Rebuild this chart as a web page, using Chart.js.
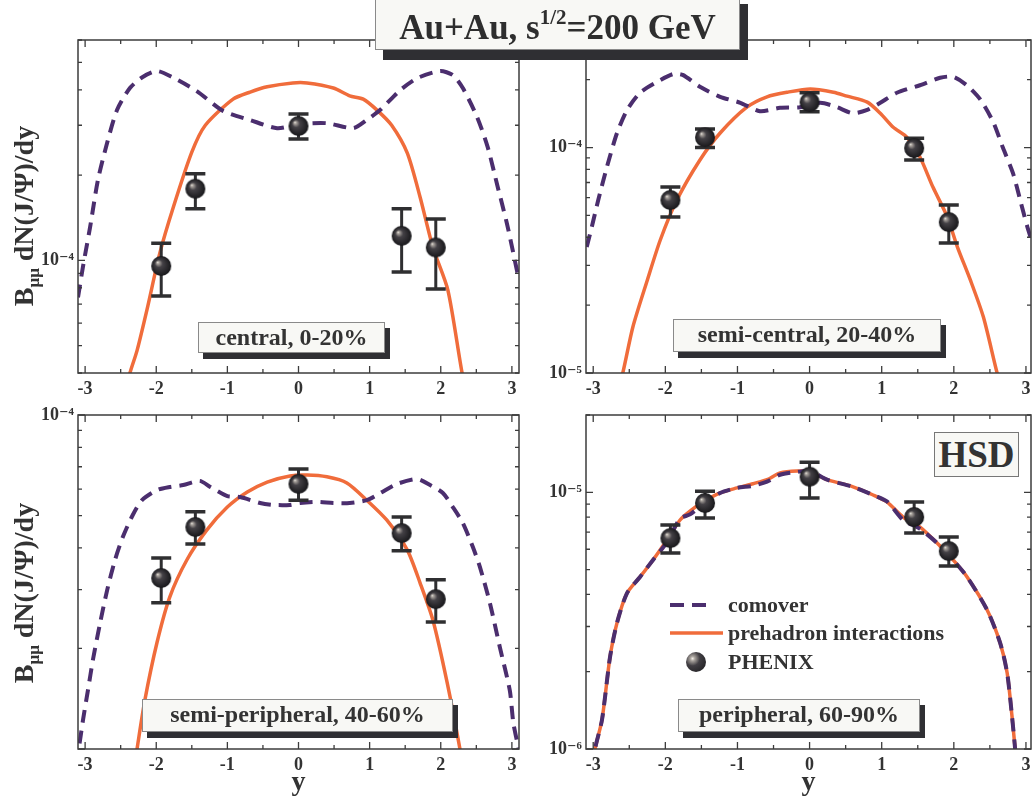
<!DOCTYPE html>
<html>
<head>
<meta charset="utf-8">
<title>J/psi rapidity distributions, HSD</title>
<script src="https://cdn.jsdelivr.net/npm/chart.js@4.4.1/dist/chart.umd.min.js"></script>
<style>
  html, body { margin: 0; padding: 0; }
  body {
    position: relative; width: 1033px; height: 801px; overflow: hidden; background: #fff;
    font-family: 'Liberation Serif', 'DejaVu Serif', serif; font-weight: bold; color: #333;
  }
  canvas { position: absolute; }
  .tag {
    position: absolute; box-sizing: border-box; background: #f8f8f5; border: 1px solid #8a8a8a;
    box-shadow: 5px 6px 0 #2f2f33; font-size: 24px; line-height: 29px; text-align: center; white-space: nowrap;
  }
  .title {
    position: absolute; left: 375px; top: -6px; width: 365px; height: 56px; box-sizing: border-box;
    padding-top: 10px; line-height: 46px; font-size: 35px; text-align: center; white-space: nowrap;
    background: #f8f8f5; border: 1px solid #8a8a8a; box-shadow: 8px 10px 0 #2f2f33; color: #2e2e2e;
  }
  .title .sup { font-size: 21px; position: relative; top: -15px; }
  .ytitle {
    position: absolute; width: 220px; height: 30px; line-height: 30px; font-size: 28px; text-align: center;
    white-space: nowrap; transform: rotate(-90deg); transform-origin: 50% 50%;
  }
  .ytitle sub { font-size: 17px; vertical-align: -6px; line-height: 0; }
  .hsd {
    position: absolute; left: 934px; top: 432px; width: 85px; height: 45px; box-sizing: border-box;
    border: 1px solid #777; background: #f8f8f5; font-size: 37px; line-height: 43px; text-align: center;
  }
  .leg { position: absolute; font-size: 22px; line-height: 26px; white-space: nowrap; }
  .leg-sample { position: absolute; }
  .ball {
    position: absolute; width: 20px; height: 20px; border-radius: 50%;
    background: radial-gradient(circle at 33% 33%, #f4f0ea 0, #a8a29c 12%, #413e43 38%, #18181a 100%);
  }
</style>
</head>
<body>
<canvas id="central" width="509" height="379" style="left:18px; top:26px"></canvas>
<canvas id="semiCentral" width="513" height="379" style="left:526px; top:26px"></canvas>
<canvas id="semiPeripheral" width="509" height="400" style="left:18px; top:401px"></canvas>
<canvas id="peripheral" width="513" height="400" style="left:526px; top:401px"></canvas>

<div class="title">Au+Au, s<span class="sup">1/2</span>=200 GeV</div>

<div class="ytitle" style="left:-86px; top:201px">B<sub>μμ</sub> dN(J/Ψ)/dy</div>
<div class="ytitle" style="left:-86px; top:578px">B<sub>μμ</sub> dN(J/Ψ)/dy</div>

<div class="tag" style="left:198px; top:322px; width:187px; height:31px">central, 0-20%</div>
<div class="tag" style="left:673px; top:319px; width:268px; height:33px">semi-central, 20-40%</div>
<div class="tag" style="left:142px; top:699px; width:311px; height:33px">semi-peripheral, 40-60%</div>
<div class="tag" style="left:678px; top:699px; width:242px; height:33px">peripheral, 60-90%</div>
<div class="hsd">HSD</div>

<svg class="leg-sample" style="left:670px; top:598px" width="50" height="14">
  <line x1="0" y1="7" x2="43" y2="7" stroke="#4b2e6e" stroke-width="4" stroke-dasharray="14 8"/>
</svg>
<div class="leg" style="left:728px; top:592px">comover</div>
<svg class="leg-sample" style="left:670px; top:626px" width="56" height="14">
  <line x1="0" y1="7" x2="53" y2="7" stroke="#f06c3b" stroke-width="3.5"/>
</svg>
<div class="leg" style="left:728px; top:620px">prehadron interactions</div>
<div class="ball" style="left:686px; top:652px"></div>
<div class="leg" style="left:728px; top:649px">PHENIX</div>

<script>
// rapidity axis
const rapidityTicks = [-3, -2, -1, 0, 1, 2, 3];
const rapidityMinor = [-2.5, -1.5, -0.5, 0.5, 1.5, 2.5];

// PHENIX rapidity bins (shared by all panels)
const phenixY = [-1.93, -1.45, 0, 1.45, 1.93];

// ---- central, 0-20% ----
const comoverX1 = [-3.1, -3.03, -2.93, -2.82, -2.69, -2.55, -2.37, -2.19, -1.99, -1.78, -1.43, -1.06, -0.68, -0.30, 0.02, 0.40, 0.77, 0.96, 1.15, 1.43, 1.67, 1.99, 2.17, 2.31, 2.51, 2.66, 2.80, 2.93, 3.02, 3.10];
const comover1 = [7.4e-5, 9.5e-5, 1.31e-4, 1.92e-4, 2.60e-4, 3.40e-4, 4.06e-4, 4.44e-4, 4.66e-4, 4.44e-4, 3.96e-4, 3.37e-4, 3.13e-4, 2.93e-4, 3.03e-4, 3.05e-4, 2.93e-4, 3.13e-4, 3.40e-4, 3.99e-4, 4.40e-4, 4.66e-4, 4.51e-4, 4.06e-4, 3.21e-4, 2.51e-4, 1.82e-4, 1.35e-4, 1.06e-4, 8.5e-5];
const prehadronX1 = [-2.45, -2.37, -2.27, -2.13, -1.95, -1.76, -1.50, -1.31, -0.92, -0.68, -0.44, -0.08, 0.12, 0.49, 0.72, 0.91, 1.10, 1.31, 1.53, 1.71, 1.89, 2.10, 2.30, 2.38];
const prehadron1 = [3.3e-5, 4.0e-5, 4.8e-5, 6.7e-5, 1.06e-4, 1.54e-4, 2.41e-4, 3.0e-4, 3.71e-4, 3.93e-4, 4.1e-4, 4.23e-4, 4.23e-4, 4.06e-4, 3.81e-4, 3.71e-4, 3.40e-4, 3.0e-4, 2.39e-4, 1.67e-4, 1.11e-4, 7.85e-5, 4.0e-5, 3.3e-5];
const phenix1 = [9.55e-5, 1.79e-4, 2.98e-4, 1.22e-4, 1.11e-4];
const phenixLo1 = [7.48e-5, 1.52e-4, 2.68e-4, 9.09e-5, 7.92e-5];
const phenixHi1 = [1.15e-4, 2.02e-4, 3.29e-4, 1.52e-4, 1.40e-4];

// ---- semi-central, 20-40% ----
const comoverX2 = [-3.09, -3.02, -2.93, -2.81, -2.67, -2.53, -2.35, -2.12, -1.89, -1.76, -1.52, -1.24, -0.96, -0.69, -0.41, -0.13, 0.15, 0.38, 0.60, 0.80, 0.98, 1.21, 1.53, 1.81, 1.99, 2.18, 2.37, 2.55, 2.68, 2.82, 2.92, 3.02, 3.09];
const comover2 = [3.62e-5, 4.44e-5, 5.85e-5, 8.2e-5, 1.16e-4, 1.47e-4, 1.75e-4, 1.95e-4, 2.12e-4, 2.10e-4, 1.86e-4, 1.68e-4, 1.58e-4, 1.45e-4, 1.50e-4, 1.51e-4, 1.58e-4, 1.51e-4, 1.42e-4, 1.47e-4, 1.58e-4, 1.75e-4, 1.89e-4, 2.04e-4, 2.06e-4, 1.89e-4, 1.63e-4, 1.29e-4, 1.0e-4, 7.7e-5, 5.85e-5, 4.44e-5, 3.77e-5];
const prehadronX2 = [-2.66, -2.59, -2.45, -2.25, -2.07, -1.84, -1.52, -1.24, -0.87, -0.59, -0.31, 0.01, 0.33, 0.52, 0.80, 0.98, 1.16, 1.35, 1.53, 1.71, 1.91, 2.05, 2.23, 2.41, 2.60, 2.67];
const prehadron2 = [8.5e-6, 1.0e-5, 1.60e-5, 2.58e-5, 3.89e-5, 5.85e-5, 8.81e-5, 1.16e-4, 1.51e-4, 1.68e-4, 1.76e-4, 1.82e-4, 1.76e-4, 1.69e-4, 1.59e-4, 1.42e-4, 1.23e-4, 1.11e-4, 9.08e-5, 6.68e-5, 4.92e-5, 3.62e-5, 2.58e-5, 1.77e-5, 1.0e-5, 8.5e-6];
const phenix2 = [5.85e-5, 1.11e-4, 1.59e-4, 9.95e-5, 4.67e-5];
const phenixLo2 = [4.92e-5, 1.0e-4, 1.44e-4, 8.81e-5, 3.77e-5];
const phenixHi2 = [6.68e-5, 1.21e-4, 1.75e-4, 1.10e-4, 5.56e-5];

// ---- semi-peripheral, 40-60% ----
const comoverX3 = [-3.12, -3.03, -2.96, -2.89, -2.79, -2.69, -2.58, -2.47, -2.33, -2.20, -1.99, -1.81, -1.62, -1.39, -1.24, -1.00, -0.82, -0.54, -0.36, -0.12, 0.02, 0.26, 0.49, 0.72, 0.96, 1.15, 1.39, 1.67, 1.85, 2.03, 2.17, 2.31, 2.45, 2.55, 2.69, 2.83, 2.97, 3.02, 3.09, 3.13];
const comover3 = [9.0e-6, 1.22e-5, 1.50e-5, 1.85e-5, 2.38e-5, 2.99e-5, 3.68e-5, 4.31e-5, 5.02e-5, 5.56e-5, 5.96e-5, 6.09e-5, 6.17e-5, 6.35e-5, 6.09e-5, 5.72e-5, 5.68e-5, 5.45e-5, 5.38e-5, 5.38e-5, 5.45e-5, 5.49e-5, 5.45e-5, 5.45e-5, 5.56e-5, 5.84e-5, 6.22e-5, 6.43e-5, 6.17e-5, 5.84e-5, 5.30e-5, 4.75e-5, 4.03e-5, 3.51e-5, 2.74e-5, 2.02e-5, 1.50e-5, 1.20e-5, 1.01e-5, 9.0e-6];
const prehadronX3 = [-2.32, -2.27, -2.16, -1.99, -1.81, -1.57, -1.29, -1.0, -0.72, -0.44, -0.12, 0.12, 0.40, 0.68, 0.96, 1.24, 1.53, 1.71, 1.89, 2.09, 2.27, 2.32];
const prehadron3 = [8.5e-6, 1.0e-5, 1.40e-5, 2.08e-5, 2.85e-5, 3.68e-5, 4.52e-5, 5.30e-5, 5.88e-5, 6.30e-5, 6.57e-5, 6.61e-5, 6.53e-5, 6.26e-5, 5.56e-5, 4.85e-5, 3.94e-5, 3.14e-5, 2.43e-5, 1.58e-5, 1.0e-5, 8.5e-6];
const phenix3 = [3.25e-5, 4.62e-5, 6.22e-5, 4.43e-5, 2.81e-5];
const phenixLo3 = [2.74e-5, 4.11e-5, 5.56e-5, 3.92e-5, 2.40e-5];
const phenixHi3 = [3.73e-5, 5.13e-5, 6.89e-5, 4.95e-5, 3.21e-5];

// ---- peripheral, 60-90% (both models nearly coincide) ----
const peripheralX = [-3.0, -2.975, -2.878, -2.767, -2.67, -2.531, -2.351, -2.171, -1.977, -1.796, -1.658, -1.477, -1.241, -1.006, -0.784, -0.59, -0.409, -0.174, 0.007, 0.243, 0.603, 0.881, 1.075, 1.297, 1.532, 1.768, 1.99, 2.184, 2.462, 2.642, 2.739, 2.808, 2.85, 2.87];
const comover4 = [8.5e-7, 1.0e-6, 1.30e-6, 2.28e-6, 3.10e-6, 4.05e-6, 4.68e-6, 5.45e-6, 6.40e-6, 7.9e-6, 8.2e-6, 9.0e-6, 9.94e-6, 1.04e-5, 1.06e-5, 1.10e-5, 1.17e-5, 1.20e-5, 1.21e-5, 1.12e-5, 1.05e-5, 9.76e-6, 9.2e-6, 7.8e-6, 7.2e-6, 6.34e-6, 5.45e-6, 4.68e-6, 3.48e-6, 2.59e-6, 1.98e-6, 1.33e-6, 1.0e-6, 8.5e-7];
const prehadron4 = [8.5e-7, 1.0e-6, 1.30e-6, 2.28e-6, 3.10e-6, 4.05e-6, 4.68e-6, 5.45e-6, 6.52e-6, 7.80e-6, 8.45e-6, 9.16e-6, 9.94e-6, 1.04e-5, 1.08e-5, 1.12e-5, 1.19e-5, 1.21e-5, 1.20e-5, 1.12e-5, 1.05e-5, 9.76e-6, 9.16e-6, 8.01e-6, 7.32e-6, 6.34e-6, 5.45e-6, 4.68e-6, 3.48e-6, 2.59e-6, 1.98e-6, 1.33e-6, 1.0e-6, 8.5e-7];
const phenix4 = [6.63e-6, 9.08e-6, 1.15e-5, 8.01e-6, 5.90e-6];
const phenixLo4 = [5.80e-6, 7.94e-6, 9.50e-6, 6.94e-6, 5.16e-6];
const phenixHi4 = [7.45e-6, 1.01e-5, 1.31e-5, 9.16e-6, 6.70e-6];

// decade tick labels per panel
const yTicks1 = [1e-4];
const yTicks2 = [1e-5, 1e-4];
const yTicks3 = [1e-4];
const yTicks4 = [1e-6, 1e-5];

const purple = '#4b2e6e';
const orange = '#f06c3b';
const axisColor = '#3c3c3c';
const inkColor = '#333';

Chart.defaults.font.family = "'Liberation Serif', 'DejaVu Serif', serif";
Chart.defaults.font.weight = 'bold';
Chart.defaults.color = inkColor;

const superDigits = { '-': '\u207B', '0': '\u2070', '1': '\u00B9', '2': '\u00B2', '3': '\u00B3', '4': '\u2074', '5': '\u2075', '6': '\u2076', '7': '\u2077', '8': '\u2078', '9': '\u2079' };
function decadeLabel(v) {
  const e = String(Math.round(Math.log10(v)));
  return '10' + e.split('').map(c => superDigits[c]).join('');
}

function toPoints(xs, ys) {
  return xs.map((x, i) => ({ x: x, y: ys[i] }));
}

// shaded black ball used for the PHENIX points
function sphereImage(r) {
  const c = document.createElement('canvas');
  c.width = c.height = 2 * r + 2;
  const g = c.getContext('2d');
  const cx = r + 1, cy = r + 1;
  const grad = g.createRadialGradient(cx - r * 0.38, cy - r * 0.38, 0, cx, cy, r);
  grad.addColorStop(0, '#f6f2ec');
  grad.addColorStop(0.12, '#aaa49e');
  grad.addColorStop(0.38, '#444146');
  grad.addColorStop(1, '#17171a');
  g.fillStyle = grad;
  g.beginPath();
  g.arc(cx, cy, r, 0, Math.PI * 2);
  g.fill();
  return c;
}
const sphere = sphereImage(10);

// error bars for the PHENIX set, drawn just before the balls
const errorBars = {
  id: 'errorBars',
  beforeDatasetDraw(chart, args) {
    if (args.index !== 0) return;
    const ds = chart.data.datasets[0];
    const { ctx, scales: { x, y } } = chart;
    ctx.save();
    ctx.strokeStyle = '#2f2f31';
    ds.data.forEach((p, i) => {
      const px = x.getPixelForValue(p.x);
      const top = y.getPixelForValue(ds.errHi[i]);
      const bot = y.getPixelForValue(ds.errLo[i]);
      ctx.lineWidth = 3;
      ctx.beginPath();
      ctx.moveTo(px, top); ctx.lineTo(px, bot);
      ctx.stroke();
      ctx.lineWidth = 3.5;
      ctx.beginPath();
      ctx.moveTo(px - 10, top); ctx.lineTo(px + 10, top);
      ctx.moveTo(px - 10, bot); ctx.lineTo(px + 10, bot);
      ctx.stroke();
    });
    ctx.restore();
  }
};

// box around the plot with inward ticks on all four sides
const frameTicks = {
  id: 'frameTicks',
  afterDraw(chart) {
    const { ctx, chartArea: a, scales: { x, y } } = chart;
    ctx.save();
    ctx.strokeStyle = axisColor;
    ctx.lineWidth = 1.5;
    ctx.strokeRect(a.left, a.top, a.right - a.left, a.bottom - a.top);
    ctx.lineWidth = 1.3;
    ctx.beginPath();
    const vTick = (v, len) => {
      const px = x.getPixelForValue(v);
      ctx.moveTo(px, a.bottom); ctx.lineTo(px, a.bottom - len);
      ctx.moveTo(px, a.top); ctx.lineTo(px, a.top + len);
    };
    rapidityTicks.forEach(v => vTick(v, 7));
    rapidityMinor.forEach(v => vTick(v, 4));
    const lo = Math.floor(Math.log10(y.min)), hi = Math.ceil(Math.log10(y.max));
    for (let e = lo; e <= hi; e++) {
      for (let m = 1; m < 10; m++) {
        const v = m * Math.pow(10, e);
        if (v < y.min * 0.999 || v > y.max * 1.001) continue;
        const py = y.getPixelForValue(v);
        const len = m === 1 ? 7 : 4;
        ctx.moveTo(a.left, py); ctx.lineTo(a.left + len, py);
        ctx.moveTo(a.right, py); ctx.lineTo(a.right - len, py);
      }
    }
    ctx.stroke();
    ctx.restore();
  }
};

function buildPanel(id, p) {
  return new Chart(document.getElementById(id), {
    type: 'line',
    data: {
      datasets: [
        {
          label: 'PHENIX',
          data: toPoints(phenixY, p.phenix),
          errLo: p.lo,
          errHi: p.hi,
          showLine: false,
          pointStyle: sphere,
          pointRadius: 10,
          pointHoverRadius: 10
        },
        {
          label: 'comover',
          data: toPoints(p.comoverX, p.comover),
          borderColor: purple,
          borderWidth: 4,
          borderDash: [13, 8],
          pointRadius: 0,
          tension: 0.25,
          fill: false
        },
        {
          label: 'prehadron interactions',
          data: toPoints(p.prehadronX, p.prehadron),
          borderColor: orange,
          borderWidth: 3.5,
          pointRadius: 0,
          tension: 0.25,
          fill: false
        }
      ]
    },
    options: {
      responsive: false,
      animation: false,
      events: [],
      layout: { padding: { top: 14, right: 8, left: 0, bottom: 0 }, autoPadding: false },
      plugins: { legend: { display: false }, tooltip: { enabled: false } },
      scales: {
        x: {
          type: 'linear',
          min: -3.1,
          max: p.xMax,
          grid: { display: false, drawTicks: false },
          border: { display: false },
          afterBuildTicks: s => { s.ticks = rapidityTicks.map(v => ({ value: v })); },
          afterFit: s => { s.height = p.xHeight; s.paddingLeft = 0; s.paddingRight = 0; },
          ticks: {
            padding: 6, color: inkColor, autoSkip: false, maxRotation: 0,
            font: { size: 18, weight: 'bold' },
            callback: v => String(v)
          },
          title: {
            display: p.xTitle, text: 'y', color: inkColor,
            font: { size: 28, weight: 'bold' }, padding: { top: 0, bottom: 1 }
          }
        },
        y: {
          type: 'logarithmic',
          min: p.yMin,
          max: p.yMax,
          grid: { display: false, drawTicks: false },
          border: { display: false },
          afterBuildTicks: s => { s.ticks = p.yTicks.map(v => ({ value: v })); },
          afterFit: s => { s.width = 60; s.paddingTop = 0; s.paddingBottom = 0; },
          ticks: {
            padding: 4, color: inkColor, autoSkip: false,
            font: { size: 18, weight: 'bold' },
            callback: v => decadeLabel(v)
          }
        }
      }
    },
    plugins: [errorBars, frameTicks]
  });
}

buildPanel('central', {
  xMax: 3.1, xHeight: 32, xTitle: false, yMin: 4e-5, yMax: 6e-4, yTicks: yTicks1,
  comoverX: comoverX1, comover: comover1, prehadronX: prehadronX1, prehadron: prehadron1,
  phenix: phenix1, lo: phenixLo1, hi: phenixHi1
});
buildPanel('semiCentral', {
  xMax: 3.07, xHeight: 32, xTitle: false, yMin: 1e-5, yMax: 3e-4, yTicks: yTicks2,
  comoverX: comoverX2, comover: comover2, prehadronX: prehadronX2, prehadron: prehadron2,
  phenix: phenix2, lo: phenixLo2, hi: phenixHi2
});
buildPanel('semiPeripheral', {
  xMax: 3.1, xHeight: 52, xTitle: true, yMin: 1e-5, yMax: 1e-4, yTicks: yTicks3,
  comoverX: comoverX3, comover: comover3, prehadronX: prehadronX3, prehadron: prehadron3,
  phenix: phenix3, lo: phenixLo3, hi: phenixHi3
});
buildPanel('peripheral', {
  xMax: 3.07, xHeight: 52, xTitle: true, yMin: 1e-6, yMax: 2e-5, yTicks: yTicks4,
  comoverX: peripheralX, comover: comover4, prehadronX: peripheralX, prehadron: prehadron4,
  phenix: phenix4, lo: phenixLo4, hi: phenixHi4
});
</script>
</body>
</html>
